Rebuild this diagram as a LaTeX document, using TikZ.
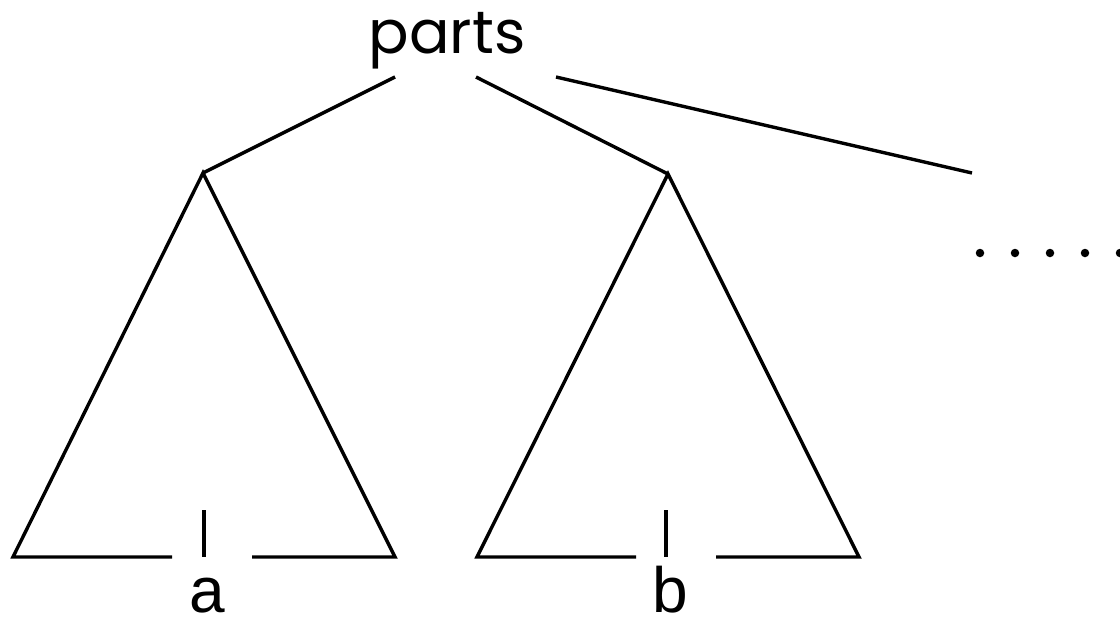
\documentclass[tikz,border=0pt]{standalone}
\usepackage{fontspec}
\setmainfont{Liberation Sans}
\newfontfamily\partsfont{Poppins}
\begin{document}
\begin{tikzpicture}[x=1pt,y=-1pt,
  edge/.style={line width=3.4pt,line cap=butt,line join=miter},
  lbl/.style={font=\fontsize{64}{64}\selectfont,inner sep=0pt,anchor=base,text depth=0pt},
  dotmark/.style={circle,fill=black,inner sep=0pt,minimum size=8.5pt}]
\useasboundingbox (0,0) rectangle (1120,619);
\node[lbl,font=\partsfont\fontsize{60}{60}\selectfont] (parts) at (447,53) {parts};
\coordinate (pL) at (395,77);
\coordinate (pM) at (476,77);
\coordinate (pR) at (556,77);
\coordinate (apA) at (203,173);
\coordinate (apB) at (668,174);
\coordinate (far) at (972,173);
% left triangle
\coordinate (aBL) at (13,557);
\coordinate (aBR) at (395,557);
\coordinate (aG1) at (172,557);
\coordinate (aG2) at (252,557);
\coordinate (aTt) at (204,510);
\coordinate (aTb) at (204,557);
% right triangle
\coordinate (bBL) at (477,557);
\coordinate (bBR) at (859,557);
\coordinate (bG1) at (636,557);
\coordinate (bG2) at (716,557);
\coordinate (bTt) at (666,510);
\coordinate (bTb) at (666,557);
\draw[edge] (pL) -- (apA);
\draw[edge] (pM) -- (apB);
\draw[edge] (pR) -- (far);
\draw[edge] (aG1) -- (aBL) -- (apA) -- (aBR) -- (aG2);
\draw[edge] (aTt) -- (aTb);
\draw[edge] (bG1) -- (bBL) -- (apB) -- (bBR) -- (bG2);
\draw[edge] (bTt) -- (bTb);
\node[lbl] (a) at (207,612) {a};
\node[lbl] (b) at (670,612) {b};
\foreach \i/\x in {1/980,2/1015,3/1050,4/1085,5/1120}
  \node[dotmark] (d\i) at (\x,253) {};
\end{tikzpicture}
\end{document}
